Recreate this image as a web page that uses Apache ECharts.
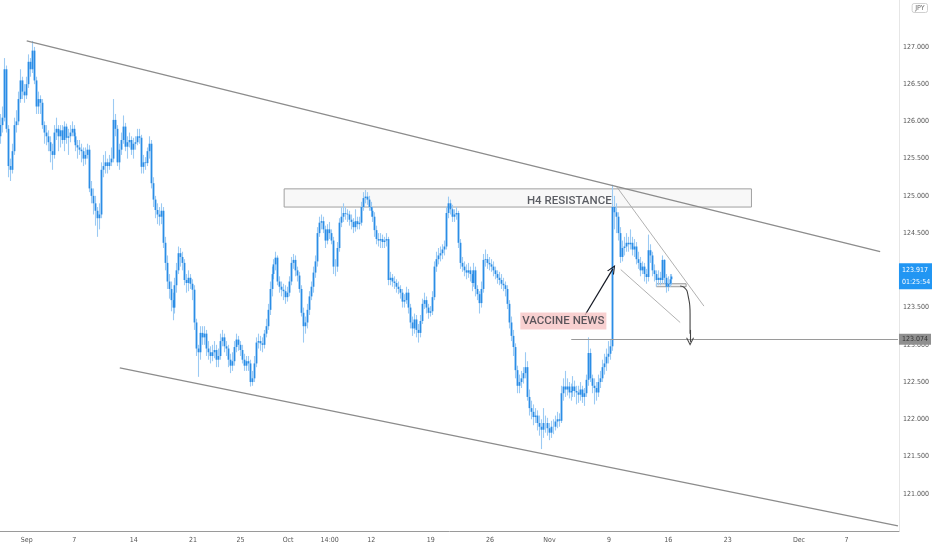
<!DOCTYPE html>
<html>
<head>
<meta charset="utf-8">
<script src="https://cdn.jsdelivr.net/npm/echarts@6/dist/echarts.min.js"></script>
<style>
html,body{margin:0;padding:0;background:#fff;}
#c{width:932px;height:550px;}
</style>
</head>
<body>
<div id="c"></div>
<script>
// ---------- DATA (EUR/JPY, H4 bars) ----------
const firstOpen = 125.8;
const closes = [
125.95,126.05,126.7,125.9,125.4,125.35,125.6,125.95,126.0,126.3,
126.55,126.4,126.35,126.5,126.8,126.7,126.95,126.55,126.2,126.3,
126.25,125.95,125.85,125.8,125.72,125.6,125.55,125.85,125.9,125.8,
125.88,125.75,125.93,125.78,125.8,125.85,125.9,125.8,125.68,125.65,
125.62,125.6,125.5,125.55,125.62,125.1,125.0,124.9,124.8,124.7,
124.75,125.35,125.4,125.45,125.4,125.45,125.5,126.02,125.9,125.45,
125.62,125.75,125.93,125.66,125.72,125.75,125.62,125.7,125.72,125.8,
125.78,125.39,125.45,125.44,125.6,125.7,125.17,124.95,124.81,124.75,
124.72,124.8,124.37,124.1,123.85,123.75,123.6,123.5,123.8,124.0,
124.23,124.18,124.1,123.87,123.83,123.9,123.82,123.74,123.3,122.95,
122.9,123.16,123.1,123.15,122.95,122.9,122.85,122.9,122.93,122.8,
122.85,123.05,123.1,122.98,122.95,122.8,122.72,122.78,122.97,123.07,
123.0,122.93,122.8,122.72,122.78,122.75,122.5,122.55,122.75,123.03,
123.05,123.02,123.0,123.15,123.25,123.47,123.75,123.95,124.08,124.17,
123.85,123.78,123.74,123.72,123.64,123.7,123.85,124.1,124.14,124.0,
123.93,123.75,123.43,123.25,123.3,123.47,123.65,123.78,123.97,124.12,
124.5,124.64,124.66,124.55,124.4,124.55,124.5,124.4,124.05,124.05,
124.3,124.64,124.72,124.77,124.76,124.75,124.68,124.65,124.58,124.66,
124.62,124.64,124.85,124.97,124.99,124.95,124.85,124.8,124.72,124.54,
124.42,124.4,124.42,124.38,124.4,124.42,123.87,123.9,123.85,123.83,
123.78,123.75,123.7,123.58,123.6,123.7,123.5,123.3,123.22,123.34,
123.2,123.16,123.32,123.55,123.6,123.5,123.43,123.45,123.64,124.05,
124.15,124.2,124.23,124.28,124.32,124.77,124.9,124.82,124.72,124.75,
124.77,124.37,124.1,124.05,124.0,123.97,124.0,123.95,123.83,124.0,
123.75,123.68,123.56,123.75,124.14,124.15,124.1,124.08,124.05,124.0,
123.95,123.9,123.87,123.82,123.8,123.75,123.55,123.3,123.12,122.97,
122.66,122.45,122.5,122.55,122.62,122.7,122.3,122.15,122.1,122.03,
122.05,121.95,121.9,121.86,121.95,121.95,121.88,121.82,121.9,121.9,
121.97,122.0,121.98,122.35,122.44,122.4,122.44,122.36,122.38,122.44,
122.38,122.36,122.33,122.4,122.3,122.35,122.53,122.89,122.55,122.45,
122.42,122.36,122.5,122.55,122.7,122.75,122.84,122.88,122.98,124.85,
124.78,124.72,124.5,124.18,124.3,124.32,124.37,124.35,124.37,124.28,
124.32,124.15,124.1,124.0,124.05,123.95,123.91,124.27,124.2,124.0,
123.95,123.87,123.9,123.87,124.14,123.9,123.78,123.82,123.88,123.917
];
const highs = [
126.1,126.2,126.85,126.75,125.95,125.5,125.7,126.05,126.15,126.4,
126.7,126.6,126.5,126.6,126.9,126.85,127.08,127.0,126.6,126.4,
126.35,126.3,126.0,125.95,125.88,125.8,125.7,125.95,126.05,125.95,
125.95,125.95,126.0,125.97,125.9,125.95,126.0,125.95,125.85,125.75,
125.75,125.7,125.65,125.65,125.7,125.68,125.2,125.1,125.0,124.85,
124.9,125.45,125.55,125.6,125.5,125.55,125.65,126.3,126.1,125.95,
125.7,125.85,126.08,125.98,125.8,125.85,125.8,125.78,125.8,125.9,
125.9,125.82,125.55,125.52,125.65,125.8,125.75,125.25,125.0,124.9,
124.85,124.9,124.85,124.45,124.2,123.95,123.85,123.7,123.9,124.1,
124.32,124.3,124.25,124.15,123.95,124.0,123.95,123.88,123.8,123.35,
123.0,123.25,123.25,123.25,123.2,123.05,122.98,123.0,123.05,123.0,
122.95,123.15,123.2,123.15,123.05,123.0,122.88,122.9,123.05,123.15,
123.12,123.05,123.0,122.88,122.85,122.85,122.8,122.65,122.85,123.1,
123.15,123.12,123.1,123.2,123.35,123.55,123.85,124.05,124.15,124.25,
124.2,123.92,123.85,123.82,123.8,123.78,123.92,124.18,124.22,124.2,
124.05,123.98,123.8,123.5,123.38,123.55,123.72,123.85,124.05,124.2,
124.58,124.72,124.75,124.72,124.6,124.62,124.65,124.55,124.45,124.15,
124.38,124.7,124.85,124.9,124.85,124.82,124.8,124.75,124.7,124.82,
124.72,124.72,124.92,125.05,125.08,125.05,125.0,124.92,124.85,124.78,
124.6,124.5,124.5,124.48,124.45,124.5,124.45,123.98,123.95,123.92,
123.88,123.85,123.8,123.75,123.68,123.78,123.75,123.55,123.38,123.42,
123.4,123.28,123.4,123.62,123.7,123.65,123.55,123.52,123.72,124.12,
124.25,124.3,124.32,124.35,124.4,124.85,124.99,124.95,124.88,124.82,
124.85,124.8,124.42,124.18,124.12,124.08,124.1,124.05,124.0,124.1,
124.05,123.8,123.72,123.85,124.22,124.28,124.22,124.18,124.15,124.12,
124.05,124.0,123.98,123.95,123.9,123.85,123.8,123.6,123.38,123.2,
123.02,122.72,122.6,122.65,122.7,122.9,122.78,122.4,122.25,122.2,
122.15,122.12,122.05,122.0,122.15,122.05,122.02,121.95,121.98,122.0,
122.05,122.1,122.08,122.45,122.55,122.65,122.55,122.5,122.48,122.58,
122.52,122.45,122.45,122.5,122.45,122.42,122.6,123.1,122.95,122.6,
122.55,122.5,122.6,122.65,122.8,122.88,122.95,123.05,123.08,125.15,
125.0,124.9,124.78,124.58,124.4,124.45,124.5,124.45,124.55,124.45,
124.42,124.38,124.25,124.18,124.12,124.1,124.02,124.48,124.35,124.25,
124.08,124.0,124.0,123.98,124.2,124.15,123.95,123.92,123.95,123.95
];
const lows = [
125.7,125.85,126.0,125.85,125.25,125.2,125.3,125.55,125.85,125.95,
126.25,126.3,126.25,126.3,126.45,126.6,126.65,126.5,126.1,126.1,
126.1,125.9,125.7,125.68,125.6,125.45,125.35,125.5,125.75,125.6,
125.65,125.7,125.6,125.7,125.55,125.72,125.8,125.72,125.6,125.5,
125.55,125.45,125.4,125.42,125.5,125.05,124.9,124.75,124.6,124.45,
124.55,124.7,125.25,125.3,125.3,125.35,125.4,125.45,125.8,125.4,
125.35,125.55,125.7,125.6,125.5,125.65,125.55,125.5,125.62,125.68,
125.7,125.3,125.3,125.35,125.4,125.5,125.1,124.85,124.7,124.62,
124.6,124.62,124.3,124.0,123.75,123.62,123.45,123.33,123.42,123.7,
123.95,124.05,124.0,123.8,123.7,123.72,123.75,123.6,123.2,122.85,
122.57,122.8,123.0,123.0,122.85,122.8,122.75,122.78,122.82,122.7,
122.7,122.8,122.98,122.9,122.85,122.7,122.62,122.65,122.72,122.9,
122.92,122.85,122.75,122.65,122.65,122.65,122.44,122.45,122.5,122.7,
122.95,122.92,122.9,122.95,123.1,123.2,123.4,123.65,123.88,124.0,
123.8,123.7,123.65,123.6,123.55,123.58,123.65,123.8,124.02,123.92,
123.85,123.7,123.38,123.03,123.15,123.22,123.4,123.6,123.7,123.9,
124.05,124.45,124.55,124.5,124.3,124.35,124.42,124.35,123.95,123.92,
123.98,124.25,124.58,124.65,124.68,124.65,124.6,124.55,124.5,124.52,
124.55,124.55,124.6,124.8,124.9,124.88,124.8,124.72,124.65,124.45,
124.35,124.32,124.3,124.3,124.3,124.32,123.8,123.8,123.78,123.75,
123.7,123.68,123.62,123.5,123.5,123.55,123.42,123.22,123.12,123.15,
123.1,123.03,123.1,123.28,123.48,123.42,123.35,123.38,123.4,123.6,
123.98,124.08,124.12,124.15,124.2,124.28,124.7,124.75,124.65,124.65,
124.68,124.3,124.02,123.98,123.92,123.88,123.9,123.85,123.72,123.78,
123.65,123.6,123.42,123.5,123.7,124.05,124.02,124.0,123.98,123.92,
123.88,123.82,123.8,123.75,123.72,123.65,123.48,123.22,123.05,122.85,
122.55,122.35,122.35,122.42,122.48,122.55,122.25,122.05,122.0,121.92,
121.95,121.85,121.78,121.6,121.75,121.82,121.78,121.72,121.75,121.8,
121.85,121.88,121.9,121.95,122.25,122.3,122.32,122.28,122.25,122.3,
122.3,122.2,122.22,122.25,122.22,122.18,122.3,122.45,122.5,122.35,
122.2,122.25,122.3,122.42,122.5,122.6,122.65,122.75,122.8,122.92,
124.55,124.5,124.4,124.1,124.12,124.2,124.25,124.25,124.28,124.2,
124.18,124.08,124.02,123.92,123.95,123.85,123.82,123.85,124.1,123.92,
123.85,123.78,123.8,123.8,123.82,123.82,123.7,123.72,123.78,123.8
];

// x-axis tick labels (bar time -> text)
const tickTimes  = ['2020-09-01 00:00','2020-09-07 00:00','2020-09-14 00:00','2020-09-21 00:00','2020-09-25 00:00','2020-10-01 00:00','2020-10-06 12:00','2020-10-12 00:00','2020-10-19 00:00','2020-10-26 00:00','2020-11-02 00:00','2020-11-09 00:00','2020-11-16 00:00','2020-11-23 00:00','2020-12-01 00:00','2020-12-07 00:00'];
const tickLabels = ['Sep','7','14','21','25','Oct','14:00','12','19','26','Nov','9','16','23','Dec','7'];

// drawings (bar time, price)
const upperChannel = [['2020-09-01 00:00',127.08],['2020-12-09 20:00',124.25]];
const lowerChannel = [['2020-09-10 20:00',122.69],['2020-12-11 08:00',120.57]];
const flagTop      = [['2020-11-09 16:00',125.12],['2020-11-19 00:00',123.52]];
const flagBottom   = [['2020-11-10 00:00',124.01],['2020-11-17 00:00',123.30]];
const resistanceBox = [['2020-09-30 16:00',125.094],['2020-11-25 00:00',124.85]];
const smallBox     = [['2020-11-13 00:00',123.82],['2020-11-17 12:00',123.78]];
const targetLevel  = 123.074;
const targetStart  = '2020-11-03 20:00';
const newsArrow    = [['2020-11-05 00:00',123.40],['2020-11-09 08:00',124.02]];
const dropCurve    = [['2020-11-17 00:00',123.79],['2020-11-17 08:00',123.77],['2020-11-17 16:00',123.66],['2020-11-17 20:00',123.42],['2020-11-17 20:00',123.15]];
const dropArrowHead = [['2020-11-17 20:00',123.2],['2020-11-17 20:00',123.04]];
const resistanceText = ['2020-11-03 16:00',124.93];
const newsText       = ['2020-11-03 04:00',123.32];
const lastPrice = 123.917;
const countdown = '01:25:54';

// ---------- build categories (H4 bars, weekdays only) ----------
function pad(n){return (n<10?'0':'')+n;}
const TOTAL_BARS = 454;
const categories = ['2020-08-27 20:00'];
(function(){
  const d = new Date(Date.UTC(2020,7,28));
  while (categories.length < TOTAL_BARS) {
    const wd = d.getUTCDay();
    if (wd !== 0 && wd !== 6) {
      for (let h = 0; h < 24 && categories.length < TOTAL_BARS; h += 4) {
        categories.push(d.getUTCFullYear()+'-'+pad(d.getUTCMonth()+1)+'-'+pad(d.getUTCDate())+' '+pad(h)+':00');
      }
    }
    d.setUTCDate(d.getUTCDate()+1);
  }
})();
const lastCat = categories[categories.length-1];
const tickMap = {};
tickTimes.forEach((t,i)=>{tickMap[t]=tickLabels[i];});

const bodies = [], wicks = [];
for (let i = 0; i < closes.length; i++) {
  const o = i === 0 ? firstOpen : closes[i-1];
  const c = closes[i];
  bodies.push([o, c, Math.min(o,c), Math.max(o,c)]);
  wicks.push([lows[i], highs[i], lows[i], highs[i]]);
}

const FONT = "'Liberation Sans Narrow','DejaVu Sans Condensed','Roboto',sans-serif";
const TFONT = "'Roboto','Liberation Sans',sans-serif";
const chevron = 'path://M0,10 L5,0 L10,10 L8.6,10 L5,2.8 L1.4,10 Z';

function seg(name, pts, color, width, extra){
  return Object.assign({type:'line', name, data: pts, symbol:'none', silent:true, z:5,
    lineStyle:{color, width}, animation:false}, extra || {});
}

const chart = echarts.init(document.getElementById('c'), null, {renderer:'canvas'});
chart.setOption({
  backgroundColor:'#ffffff',
  animation:false,
  grid:{left:0, right:26, top:0, bottom:19},
  xAxis:{
    type:'category', data:categories, boundaryGap:true,
    axisLine:{show:true, lineStyle:{color:'#9a9a9a', width:1}},
    axisTick:{show:false},
    splitLine:{show:false},
    axisLabel:{
      interval:(idx, val)=> tickMap.hasOwnProperty(val),
      formatter:(val)=> tickMap[val] || '',
      fontSize:7, color:'#555', margin:6, fontFamily:FONT
    }
  },
  yAxis:{
    type:'value', position:'right', min:120.5, max:127.63, interval:0.5,
    axisLine:{show:true, lineStyle:{color:'#e6e6e6'}},
    axisTick:{show:false},
    splitLine:{show:false},
    axisLabel:{showMinLabel:false, showMaxLabel:false, fontSize:7, color:'#555', margin:4,
      fontFamily:FONT, formatter:(v)=> (v > 120.9 && v < 127.1 && Math.abs(v*2 - Math.round(v*2)) < 1e-6) ? v.toFixed(3) : ''}
  },
  graphic:[{type:'text', right:4, top:3, z:10,
    style:{text:'JPY', fontSize:7, fill:'#666', fontFamily:FONT,
      borderColor:'#d0d0d0', borderWidth:1, padding:[1,3], borderRadius:2}}],
  series:[
    {type:'candlestick', name:'wicks', data:wicks, barWidth:1, silent:true, z:2,
      itemStyle:{color:'#9ccaf3', color0:'#9ccaf3', borderColor:'#9ccaf3', borderColor0:'#9ccaf3', borderWidth:1.1}},
    {type:'candlestick', name:'bodies', data:bodies, barWidth:1, silent:true, z:3,
      itemStyle:{color:'#2b8de6', color0:'#2b8de6', borderColor:'#2b8de6', borderColor0:'#2b8de6', borderWidth:1.8},
      markArea:{silent:true, data:[
        [{coord:resistanceBox[0], itemStyle:{color:'rgba(240,240,240,0.45)', borderColor:'#a0a0a0', borderWidth:1}}, {coord:resistanceBox[1]}],
        [{coord:smallBox[0], itemStyle:{color:'rgba(225,225,225,0.5)', borderColor:'#9a9a9a', borderWidth:1}}, {coord:smallBox[1]}]
      ]},
      markLine:{silent:true, animation:false, data:[
        [{coord:[targetStart,targetLevel], symbol:'none', lineStyle:{color:'#9a9a9a', width:1, type:'solid'},
           label:{show:true, position:'end', distance:1, formatter:'123.074', backgroundColor:'#8f8f8f',
             color:'#333', fontSize:7, fontFamily:FONT, padding:[2,3,2,3]}},
         {coord:[lastCat,targetLevel], symbol:'none'}],
        [{coord:newsArrow[0], symbol:'none', lineStyle:{color:'#131722', width:1.2, type:'solid'}, label:{show:false}},
         {coord:newsArrow[1], symbol:chevron, symbolSize:[8,9]}],
        [{coord:dropArrowHead[0], symbol:'none', lineStyle:{color:'#444', width:1.1, type:'solid'}, label:{show:false}},
         {coord:dropArrowHead[1], symbol:chevron, symbolSize:[8,8]}],
        {yAxis:lastPrice, symbol:'none', lineStyle:{color:'transparent', width:0},
          label:{show:true, position:'end', distance:0,
            formatter:'{a|'+lastPrice.toFixed(3)+'}\n{b|'+countdown+'}',
            backgroundColor:'#2196f3', padding:[1,3,1,3],
            rich:{a:{color:'#fff', fontSize:7, fontFamily:FONT, lineHeight:12},
                  b:{color:'#fff', fontSize:7, fontFamily:FONT, lineHeight:12}}}}
      ]}
    },
    seg('upper', upperChannel, '#8c8c8c', 1.3),
    seg('lower', lowerChannel, '#8c8c8c', 1.3),
    seg('flagTop', flagTop, '#a8a8a8', 0.9),
    seg('flagBottom', flagBottom, '#a8a8a8', 0.9),
    seg('dropCurve', dropCurve, '#444', 1.1, {smooth:0.6}),
    {type:'scatter', data:[resistanceText], symbolSize:0, itemStyle:{color:'transparent'}, silent:true, z:6,
      label:{show:true, position:'inside', formatter:'H4 RESISTANCE', color:'#33363d',
        fontSize:11.5, fontWeight:500, fontFamily:TFONT}},
    {type:'scatter', data:[newsText], symbolSize:0, itemStyle:{color:'transparent'}, silent:true, z:6,
      label:{show:true, position:'inside', formatter:'VACCINE NEWS', color:'#33363d',
        fontSize:11.5, fontWeight:500, fontFamily:TFONT, backgroundColor:'#f6c4c4', padding:[3,2,2,2]}}
  ]
});
</script>
</body>
</html>
